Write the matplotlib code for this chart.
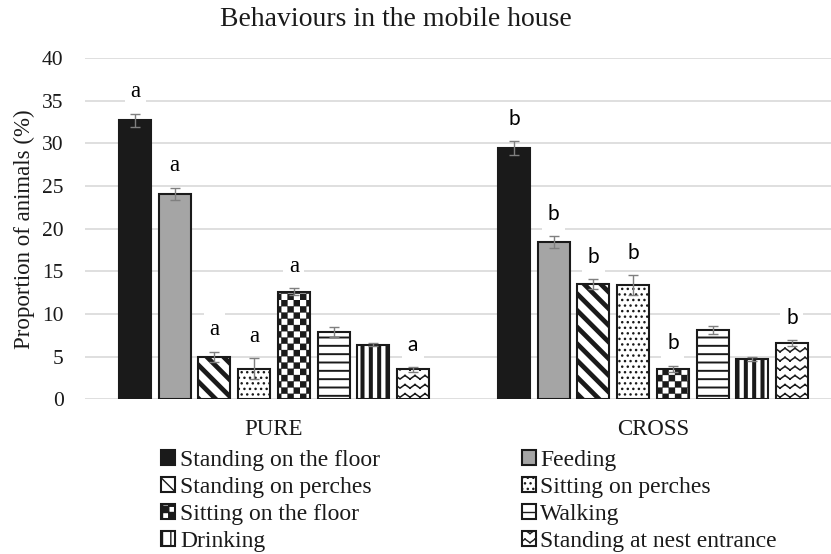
import warnings
import numpy as np
import matplotlib
matplotlib.use('Agg')
from matplotlib import pyplot as plt
from matplotlib import hatch as mhatch
from matplotlib.path import Path

warnings.filterwarnings('ignore')

groups = ['PURE', 'CROSS']
behaviours = ['Standing on the floor', 'Feeding', 'Standing on perches',
              'Sitting on perches', 'Sitting on the floor', 'Walking',
              'Drinking', 'Standing at nest entrance']
pure_vals = [32.7, 24.1, 5.0, 3.6, 12.6, 7.85, 6.4, 3.5]
pure_errs = [0.8, 0.7, 0.6, 1.2, 0.4, 0.6, 0.2, 0.3]
cross_vals = [29.5, 18.4, 13.5, 13.4, 3.6, 8.1, 4.7, 6.6]
cross_errs = [0.8, 0.7, 0.6, 1.2, 0.35, 0.5, 0.25, 0.3]
pure_letters = ['a', 'a', 'a', 'a', 'a', '', '', 'a']
cross_letters = ['b', 'b', 'b', 'b', 'b', '', '', 'b']


class CheckerHatch(mhatch.HatchPatternBase):
    # 'c' -> filled checkerboard squares
    def __init__(self, hatch, density):
        self.n = 16 if 'c' in hatch else 0
        self.num_vertices = (self.n * self.n // 2) * 5

    def set_vertices_and_codes(self, vertices, codes):
        s = 1.0 / self.n
        k = 0
        for i in range(self.n):
            for j in range(self.n):
                if (i + j) % 2:
                    continue
                x0, y0 = i * s, j * s
                vertices[k:k + 5] = [(x0, y0), (x0 + s, y0), (x0 + s, y0 + s),
                                     (x0, y0 + s), (x0, y0)]
                codes[k:k + 5] = [Path.MOVETO, Path.LINETO, Path.LINETO,
                                  Path.LINETO, Path.CLOSEPOLY]
                k += 5


class ZigzagHatch(mhatch.HatchPatternBase):
    # 'w' -> rows of zigzag lines, drawn as separate segments
    def __init__(self, hatch, density):
        self.rows = 11 if 'w' in hatch else 0
        self.teeth = 10
        self.num_vertices = self.rows * self.teeth * 4

    def set_vertices_and_codes(self, vertices, codes):
        amp = 0.018
        k = 0
        for r in range(self.rows):
            y = (r + 0.5) / self.rows
            for t in range(self.teeth):
                x0 = t / self.teeth
                xm = (t + 0.5) / self.teeth
                x1 = (t + 1) / self.teeth
                vertices[k:k + 4] = [(x0, y - amp), (xm, y + amp),
                                     (xm, y + amp), (x1, y - amp)]
                codes[k:k + 4] = [Path.MOVETO, Path.LINETO,
                                  Path.MOVETO, Path.LINETO]
                k += 4


mhatch._hatch_types.append(CheckerHatch)
mhatch._hatch_types.append(ZigzagHatch)

styles = [
    dict(fc='#1a1a1a', hatch=None, hlw=1.0),
    dict(fc='#a5a5a5', hatch=None, hlw=1.0),
    dict(fc='white', hatch='\\\\', hlw=3.4),
    dict(fc='white', hatch='...', hlw=1.0),
    dict(fc='white', hatch='c', hlw=0.2),
    dict(fc='white', hatch='--', hlw=1.4),
    dict(fc='white', hatch='||', hlw=2.9),
    dict(fc='white', hatch='w', hlw=1.1),
]

serif = 'Liberation Serif'
sans = 'Lato'

fig = plt.figure(figsize=(8.31, 5.54), dpi=100)
ax = fig.add_axes([84.5 / 831, 0.2792, 1 - 84.5 / 831, 0.8951 - 0.2792])

centers = np.arange(len(groups))
pitch = 0.1047
width = 0.0844
offsets = (np.arange(len(behaviours)) - 3.5) * pitch

vals = np.array([pure_vals, cross_vals])
errs = np.array([pure_errs, cross_errs])
letters = [pure_letters, cross_letters]
letter_fonts = [[serif] * 7 + [sans], [sans] * 8]

handles = []
for i, name in enumerate(behaviours):
    st = styles[i]
    xs = centers + offsets[i]
    bars = ax.bar(xs, vals[:, i], width, color=st['fc'], edgecolor='#1a1a1a',
                  linewidth=1.5, hatch=st['hatch'], label=name, zorder=2)
    for b in bars:
        if hasattr(b, 'set_hatch_linewidth'):
            b.set_hatch_linewidth(st['hlw'])
    handles.append(bars)
    ax.errorbar(xs, vals[:, i], yerr=errs[:, i], fmt='none', ecolor='#7f7f7f',
                elinewidth=1, capsize=3.5, capthick=1, zorder=3)
    for g in range(len(groups)):
        if letters[g][i]:
            fam = letter_fonts[g][i]
            ax.text(xs[g], vals[g, i] + errs[g, i] + 2.6, letters[g][i],
                    ha='center', va='center',
                    fontsize=16.5 if fam == serif else 15,
                    family=fam, zorder=4,
                    bbox=dict(facecolor='white', edgecolor='none', pad=4))

ax.set_xlim(-0.5, -0.5 + (831 - 84.5) / 379)
ax.set_ylim(0, 40)
ax.set_yticks(np.arange(0, 41, 5))
ax.set_xticks(centers)
ax.set_xticklabels(groups, family=serif, fontsize=16.5)
for lab in ax.get_yticklabels():
    lab.set_family(serif)
    lab.set_fontsize(15.5)
ax.tick_params(axis='both', length=0, colors='#1a1a1a')
ax.tick_params(axis='y', pad=15)
ax.tick_params(axis='x', pad=14)
for sp in ax.spines.values():
    sp.set_visible(False)
ax.yaxis.grid(True, color='#d9d9d9', linewidth=1.2)
ax.set_axisbelow(True)

ax.set_ylabel('Proportion of animals (%)', family=serif, fontsize=16.5,
              color='#1a1a1a')
ax.yaxis.set_label_coords((35 - 84.5) / 746.5, 0.5)

fig.text(395.5 / 831, 1 - 20 / 554, 'Behaviours in the mobile house',
         ha='center', va='center', family=serif, fontsize=20, color='#1a1a1a')

order = [0, 2, 4, 6, 1, 3, 5, 7]
leg = fig.legend([handles[k] for k in order], [behaviours[k] for k in order],
                 ncol=2, loc='upper left', bbox_to_anchor=(161 / 831, 1 - 450 / 554),
                 frameon=False, prop={'family': serif, 'size': 17},
                 handlelength=0.6, handleheight=0.6, handletextpad=0.2,
                 columnspacing=6.0, labelspacing=0.25, borderpad=0,
                 borderaxespad=0)
for t in leg.get_texts():
    t.set_color('#1a1a1a')

fig.savefig('out.png', dpi=100)
